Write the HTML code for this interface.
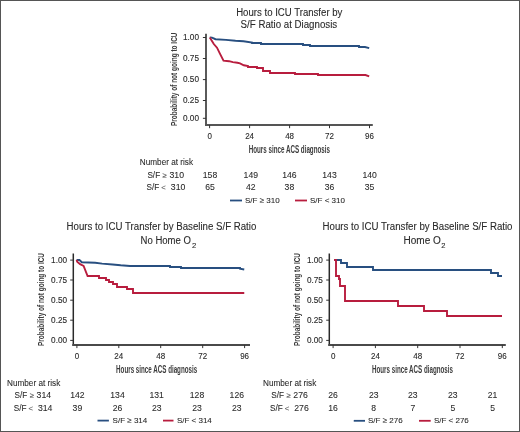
<!DOCTYPE html>
<html><head><meta charset="utf-8"><style>
html,body{margin:0;padding:0;background:#fff;}
#f{position:relative;width:520px;height:432px;overflow:hidden;background:#fff;}
svg{position:absolute;left:0;top:0;}
text{font-family:"Liberation Sans", sans-serif;fill:#2a2a2a;stroke:#2a2a2a;stroke-width:0.08px;}
.t{filter:grayscale(1);}
</style></head><body><div id="f">
<svg width="520" height="432" viewBox="0 0 520 432">
<rect x="0.5" y="0.5" width="519" height="431" fill="#fff" stroke="#555" stroke-width="1"/>
<line x1="206" y1="33.8" x2="206" y2="126" stroke="#5a5a5a" stroke-width="2"/>
<line x1="205" y1="125" x2="372.8" y2="125" stroke="#555" stroke-width="2"/>
<line x1="202.9" y1="37.5" x2="206" y2="37.5" stroke="#333" stroke-width="1"/>
<line x1="202.9" y1="58.5" x2="206" y2="58.5" stroke="#333" stroke-width="1"/>
<line x1="202.9" y1="79.6" x2="206" y2="79.6" stroke="#333" stroke-width="1"/>
<line x1="202.9" y1="100.5" x2="206" y2="100.5" stroke="#333" stroke-width="1"/>
<line x1="202.9" y1="118.3" x2="206" y2="118.3" stroke="#333" stroke-width="1"/>
<line x1="209.6" y1="125" x2="209.6" y2="128.2" stroke="#333" stroke-width="1"/>
<line x1="249.6" y1="125" x2="249.6" y2="128.2" stroke="#333" stroke-width="1"/>
<line x1="289.6" y1="125" x2="289.6" y2="128.2" stroke="#333" stroke-width="1"/>
<line x1="329.5" y1="125" x2="329.5" y2="128.2" stroke="#333" stroke-width="1"/>
<line x1="369.5" y1="125" x2="369.5" y2="128.2" stroke="#333" stroke-width="1"/>
<polyline points="209.8,37.4 212,37.6 215.5,39.2 226,39.9 235.5,40.8 243.5,41.3 252,42.5 252,43 261,43 261,44 303,44 303,45 310,45 310,46 359,46 359,47 365,47 369.2,48.1" fill="none" stroke="#284f80" stroke-width="1.9" stroke-linejoin="miter"/>
<polyline points="209.8,37.4 213.8,44 217,47.7 219.8,53.3 223.5,60.7 229.1,61.2 232.8,62.1 237.4,62.7 240,63.3 243.8,65.3 248,66.1 248,67 257,67 257,68 263,68 263,71 270,71 270,73 295,73 295,74 318,74 318,75 365.5,75 369.2,76.4" fill="none" stroke="#b81d3e" stroke-width="1.9" stroke-linejoin="miter"/>
<line x1="230" y1="200.5" x2="242" y2="200.5" stroke="#284f80" stroke-width="1.8"/>
<line x1="295" y1="200.5" x2="307" y2="200.5" stroke="#b81d3e" stroke-width="1.8"/>
<line x1="73.3" y1="253.5" x2="73.3" y2="345.9" stroke="#2a2a2a" stroke-width="1.5"/>
<line x1="72.3" y1="344.9" x2="250" y2="344.9" stroke="#4a4a4a" stroke-width="2"/>
<line x1="70.2" y1="260.1" x2="73.3" y2="260.1" stroke="#333" stroke-width="1"/>
<line x1="70.2" y1="280" x2="73.3" y2="280" stroke="#333" stroke-width="1"/>
<line x1="70.2" y1="300.2" x2="73.3" y2="300.2" stroke="#333" stroke-width="1"/>
<line x1="70.2" y1="320.2" x2="73.3" y2="320.2" stroke="#333" stroke-width="1"/>
<line x1="70.2" y1="340.4" x2="73.3" y2="340.4" stroke="#333" stroke-width="1"/>
<line x1="76.9" y1="344.9" x2="76.9" y2="348.1" stroke="#333" stroke-width="1"/>
<line x1="118.8" y1="344.9" x2="118.8" y2="348.1" stroke="#333" stroke-width="1"/>
<line x1="160.7" y1="344.9" x2="160.7" y2="348.1" stroke="#333" stroke-width="1"/>
<line x1="202.7" y1="344.9" x2="202.7" y2="348.1" stroke="#333" stroke-width="1"/>
<line x1="244.6" y1="344.9" x2="244.6" y2="348.1" stroke="#333" stroke-width="1"/>
<polyline points="76.6,260 79.5,260 81.8,262.2 95.2,262.7 102.1,263.6 112.6,264.5 120.7,265.3 130,266 170,266 170,267 181,267 181,268 240,268 240,268.75 244.25,269.5" fill="none" stroke="#284f80" stroke-width="1.9" stroke-linejoin="miter"/>
<polyline points="76.6,259.9 77.2,261.8 80.1,264.2 83.6,265.9 87.6,276 99,276 99,278 106,278 106,280 109,280 109,282 113,282 113,284 117,284 117,287 127,287 127,289 133,289 133,293 244.25,293" fill="none" stroke="#b81d3e" stroke-width="1.9" stroke-linejoin="miter"/>
<line x1="97.5" y1="420.6" x2="108.9" y2="420.6" stroke="#284f80" stroke-width="1.8"/>
<line x1="163" y1="420.6" x2="173.5" y2="420.6" stroke="#b81d3e" stroke-width="1.8"/>
<line x1="329.3" y1="253.5" x2="329.3" y2="345.9" stroke="#2a2a2a" stroke-width="1.5"/>
<line x1="328.3" y1="344.9" x2="505.8" y2="344.9" stroke="#4a4a4a" stroke-width="2"/>
<line x1="326.2" y1="260.1" x2="329.3" y2="260.1" stroke="#333" stroke-width="1"/>
<line x1="326.2" y1="280" x2="329.3" y2="280" stroke="#333" stroke-width="1"/>
<line x1="326.2" y1="300.2" x2="329.3" y2="300.2" stroke="#333" stroke-width="1"/>
<line x1="326.2" y1="320.2" x2="329.3" y2="320.2" stroke="#333" stroke-width="1"/>
<line x1="326.2" y1="340.4" x2="329.3" y2="340.4" stroke="#333" stroke-width="1"/>
<line x1="333.1" y1="344.9" x2="333.1" y2="348.1" stroke="#333" stroke-width="1"/>
<line x1="375.4" y1="344.9" x2="375.4" y2="348.1" stroke="#333" stroke-width="1"/>
<line x1="417.7" y1="344.9" x2="417.7" y2="348.1" stroke="#333" stroke-width="1"/>
<line x1="460" y1="344.9" x2="460" y2="348.1" stroke="#333" stroke-width="1"/>
<line x1="502.3" y1="344.9" x2="502.3" y2="348.1" stroke="#333" stroke-width="1"/>
<polyline points="334.1,260 341,260 341,263 347,263 347,267 373,267 373,270 491,270 491,273 498,273 498,276 502,276" fill="none" stroke="#284f80" stroke-width="1.9" stroke-linejoin="miter"/>
<polyline points="334.1,260 336,260 336,265 336,265 336,276 339,276 339,279 340,279 340,286 345,286 345,301 398,301 398,306 424,306 424,311 447,311 447,316 502,316" fill="none" stroke="#b81d3e" stroke-width="1.9" stroke-linejoin="miter"/>
<line x1="353.75" y1="420.8" x2="365" y2="420.8" stroke="#284f80" stroke-width="1.8"/>
<line x1="419" y1="420.8" x2="430.7" y2="420.8" stroke="#b81d3e" stroke-width="1.8"/>
<g class="t"><text x="236.20" y="15.5" font-size="10.0" textLength="106.20" lengthAdjust="spacingAndGlyphs" style="stroke-width:0.1px">Hours to ICU Transfer by</text>
<text x="240.60" y="27.6" font-size="10.0" textLength="96.60" lengthAdjust="spacingAndGlyphs" style="stroke-width:0.1px">S/F Ratio at Diagnosis</text>
<text x="66.60" y="230.0" font-size="10.0" textLength="189.70" lengthAdjust="spacingAndGlyphs" style="stroke-width:0.1px">Hours to ICU Transfer by Baseline S/F Ratio</text>
<text x="322.60" y="230.0" font-size="10.0" textLength="189.90" lengthAdjust="spacingAndGlyphs" style="stroke-width:0.1px">Hours to ICU Transfer by Baseline S/F Ratio</text>
<text x="140.60" y="244.3" font-size="10.0" textLength="50.30" lengthAdjust="spacingAndGlyphs" style="stroke-width:0.1px">No Home O</text>
<text x="192.00" y="247.6" font-size="7.4" textLength="4.30" lengthAdjust="spacingAndGlyphs" style="stroke-width:0.1px">2</text>
<text x="403.50" y="244.3" font-size="10.0" textLength="37.40" lengthAdjust="spacingAndGlyphs" style="stroke-width:0.1px">Home O</text>
<text x="441.20" y="247.6" font-size="7.4" textLength="4.20" lengthAdjust="spacingAndGlyphs" style="stroke-width:0.1px">2</text>
<text x="199" y="40.3" font-size="8.8" text-anchor="end" textLength="16" lengthAdjust="spacingAndGlyphs" style="stroke-width:0.12px">1.00</text>
<text x="199" y="61.3" font-size="8.8" text-anchor="end" textLength="16" lengthAdjust="spacingAndGlyphs" style="stroke-width:0.12px">0.75</text>
<text x="199" y="82.4" font-size="8.8" text-anchor="end" textLength="16" lengthAdjust="spacingAndGlyphs" style="stroke-width:0.12px">0.50</text>
<text x="199" y="103.3" font-size="8.8" text-anchor="end" textLength="16" lengthAdjust="spacingAndGlyphs" style="stroke-width:0.12px">0.25</text>
<text x="199" y="121.1" font-size="8.8" text-anchor="end" textLength="16" lengthAdjust="spacingAndGlyphs" style="stroke-width:0.12px">0.00</text>
<text x="209.6" y="139" font-size="8.8" text-anchor="middle" textLength="4.45" lengthAdjust="spacingAndGlyphs" style="stroke-width:0.12px">0</text>
<text x="249.6" y="139" font-size="8.8" text-anchor="middle" textLength="8.9" lengthAdjust="spacingAndGlyphs" style="stroke-width:0.12px">24</text>
<text x="289.6" y="139" font-size="8.8" text-anchor="middle" textLength="8.9" lengthAdjust="spacingAndGlyphs" style="stroke-width:0.12px">48</text>
<text x="329.5" y="139" font-size="8.8" text-anchor="middle" textLength="8.9" lengthAdjust="spacingAndGlyphs" style="stroke-width:0.12px">72</text>
<text x="369.5" y="139" font-size="8.8" text-anchor="middle" textLength="8.9" lengthAdjust="spacingAndGlyphs" style="stroke-width:0.12px">96</text>
<text x="248.7" y="152.6" font-size="10.2" text-anchor="start" textLength="81.3" lengthAdjust="spacingAndGlyphs" font-weight="bold" style="stroke-width:0;fill:#3c3c3c">Hours since ACS diagnosis</text>
<text transform="translate(176.8,126) rotate(-90)" font-size="9.4" font-weight="bold" style="stroke-width:0;fill:#3c3c3c" textLength="93.5" lengthAdjust="spacingAndGlyphs">Probability of not going to ICU</text>
<text x="139.8" y="165.4" font-size="8.2" text-anchor="start">Number at risk</text>
<text x="147.4" y="177.8" font-size="8.2" text-anchor="start">S/F</text>
<text x="162.6" y="177.8" font-size="7.6" text-anchor="start" style="fill:#555;stroke:#555;stroke-width:0.1px">≥</text>
<text x="169.5" y="177.8" font-size="8.2" text-anchor="start" textLength="14.55" lengthAdjust="spacingAndGlyphs">310</text>
<text x="210" y="177.8" font-size="8.2" text-anchor="middle" textLength="14.4" lengthAdjust="spacingAndGlyphs">158</text>
<text x="250.8" y="177.8" font-size="8.2" text-anchor="middle" textLength="14.4" lengthAdjust="spacingAndGlyphs">149</text>
<text x="289.4" y="177.8" font-size="8.2" text-anchor="middle" textLength="14.4" lengthAdjust="spacingAndGlyphs">146</text>
<text x="329.5" y="177.8" font-size="8.2" text-anchor="middle" textLength="14.4" lengthAdjust="spacingAndGlyphs">143</text>
<text x="369.6" y="177.8" font-size="8.2" text-anchor="middle" textLength="14.4" lengthAdjust="spacingAndGlyphs">140</text>
<text x="146.5" y="190.3" font-size="8.2" text-anchor="start">S/F</text>
<text x="161.3" y="190.3" font-size="7.6" text-anchor="start" style="fill:#555;stroke:#555;stroke-width:0.1px">&lt;</text>
<text x="170.8" y="190.3" font-size="8.2" text-anchor="start" textLength="14.55" lengthAdjust="spacingAndGlyphs">310</text>
<text x="210" y="190.3" font-size="8.2" text-anchor="middle" textLength="9.6" lengthAdjust="spacingAndGlyphs">65</text>
<text x="250.8" y="190.3" font-size="8.2" text-anchor="middle" textLength="9.6" lengthAdjust="spacingAndGlyphs">42</text>
<text x="289.4" y="190.3" font-size="8.2" text-anchor="middle" textLength="9.6" lengthAdjust="spacingAndGlyphs">38</text>
<text x="329.5" y="190.3" font-size="8.2" text-anchor="middle" textLength="9.6" lengthAdjust="spacingAndGlyphs">36</text>
<text x="369.6" y="190.3" font-size="8.2" text-anchor="middle" textLength="9.6" lengthAdjust="spacingAndGlyphs">35</text>
<text x="245" y="203.2" font-size="8" text-anchor="start" style="stroke-width:0.1px">S/F ≥ 310</text>
<text x="310" y="203.2" font-size="8" text-anchor="start" style="stroke-width:0.1px">S/F &lt; 310</text>
<text x="67.1" y="262.9" font-size="8.8" text-anchor="end" textLength="16" lengthAdjust="spacingAndGlyphs" style="stroke-width:0.12px">1.00</text>
<text x="67.1" y="282.8" font-size="8.8" text-anchor="end" textLength="16" lengthAdjust="spacingAndGlyphs" style="stroke-width:0.12px">0.75</text>
<text x="67.1" y="303.0" font-size="8.8" text-anchor="end" textLength="16" lengthAdjust="spacingAndGlyphs" style="stroke-width:0.12px">0.50</text>
<text x="67.1" y="323.0" font-size="8.8" text-anchor="end" textLength="16" lengthAdjust="spacingAndGlyphs" style="stroke-width:0.12px">0.25</text>
<text x="67.1" y="343.2" font-size="8.8" text-anchor="end" textLength="16" lengthAdjust="spacingAndGlyphs" style="stroke-width:0.12px">0.00</text>
<text x="76.9" y="358.6" font-size="8.8" text-anchor="middle" textLength="4.45" lengthAdjust="spacingAndGlyphs" style="stroke-width:0.12px">0</text>
<text x="118.8" y="358.6" font-size="8.8" text-anchor="middle" textLength="8.9" lengthAdjust="spacingAndGlyphs" style="stroke-width:0.12px">24</text>
<text x="160.7" y="358.6" font-size="8.8" text-anchor="middle" textLength="8.9" lengthAdjust="spacingAndGlyphs" style="stroke-width:0.12px">48</text>
<text x="202.7" y="358.6" font-size="8.8" text-anchor="middle" textLength="8.9" lengthAdjust="spacingAndGlyphs" style="stroke-width:0.12px">72</text>
<text x="244.6" y="358.6" font-size="8.8" text-anchor="middle" textLength="8.9" lengthAdjust="spacingAndGlyphs" style="stroke-width:0.12px">96</text>
<text x="116.1" y="372.8" font-size="10.2" text-anchor="start" textLength="81.1" lengthAdjust="spacingAndGlyphs" font-weight="bold" style="stroke-width:0;fill:#3c3c3c">Hours since ACS diagnosis</text>
<text transform="translate(43.7,346) rotate(-90)" font-size="9.4" font-weight="bold" style="stroke-width:0;fill:#3c3c3c" textLength="93" lengthAdjust="spacingAndGlyphs">Probability of not going to ICU</text>
<text x="7" y="385.5" font-size="8.2" text-anchor="start">Number at risk</text>
<text x="14.5" y="398.2" font-size="8.2" text-anchor="start">S/F</text>
<text x="29.8" y="398.2" font-size="7.6" text-anchor="start" style="fill:#555;stroke:#555;stroke-width:0.1px">≥</text>
<text x="36.6" y="398.2" font-size="8.2" text-anchor="start" textLength="14.55" lengthAdjust="spacingAndGlyphs">314</text>
<text x="77.4" y="398.2" font-size="8.2" text-anchor="middle" textLength="14.4" lengthAdjust="spacingAndGlyphs">142</text>
<text x="117.5" y="398.2" font-size="8.2" text-anchor="middle" textLength="14.4" lengthAdjust="spacingAndGlyphs">134</text>
<text x="156.7" y="398.2" font-size="8.2" text-anchor="middle" textLength="14.4" lengthAdjust="spacingAndGlyphs">131</text>
<text x="197" y="398.2" font-size="8.2" text-anchor="middle" textLength="14.4" lengthAdjust="spacingAndGlyphs">128</text>
<text x="236.8" y="398.2" font-size="8.2" text-anchor="middle" textLength="14.4" lengthAdjust="spacingAndGlyphs">126</text>
<text x="13.75" y="410.8" font-size="8.2" text-anchor="start">S/F</text>
<text x="28.5" y="410.8" font-size="7.6" text-anchor="start" style="fill:#555;stroke:#555;stroke-width:0.1px">&lt;</text>
<text x="37.9" y="410.8" font-size="8.2" text-anchor="start" textLength="14.55" lengthAdjust="spacingAndGlyphs">314</text>
<text x="77.4" y="410.8" font-size="8.2" text-anchor="middle" textLength="9.6" lengthAdjust="spacingAndGlyphs">39</text>
<text x="117.5" y="410.8" font-size="8.2" text-anchor="middle" textLength="9.6" lengthAdjust="spacingAndGlyphs">26</text>
<text x="156.7" y="410.8" font-size="8.2" text-anchor="middle" textLength="9.6" lengthAdjust="spacingAndGlyphs">23</text>
<text x="197" y="410.8" font-size="8.2" text-anchor="middle" textLength="9.6" lengthAdjust="spacingAndGlyphs">23</text>
<text x="236.8" y="410.8" font-size="8.2" text-anchor="middle" textLength="9.6" lengthAdjust="spacingAndGlyphs">23</text>
<text x="112.6" y="423.2" font-size="8" text-anchor="start" style="stroke-width:0.1px">S/F ≥ 314</text>
<text x="176.9" y="423.2" font-size="8" text-anchor="start" style="stroke-width:0.1px">S/F &lt; 314</text>
<text x="322.9" y="262.9" font-size="8.8" text-anchor="end" textLength="16" lengthAdjust="spacingAndGlyphs" style="stroke-width:0.12px">1.00</text>
<text x="322.9" y="282.8" font-size="8.8" text-anchor="end" textLength="16" lengthAdjust="spacingAndGlyphs" style="stroke-width:0.12px">0.75</text>
<text x="322.9" y="303.0" font-size="8.8" text-anchor="end" textLength="16" lengthAdjust="spacingAndGlyphs" style="stroke-width:0.12px">0.50</text>
<text x="322.9" y="323.0" font-size="8.8" text-anchor="end" textLength="16" lengthAdjust="spacingAndGlyphs" style="stroke-width:0.12px">0.25</text>
<text x="322.9" y="343.2" font-size="8.8" text-anchor="end" textLength="16" lengthAdjust="spacingAndGlyphs" style="stroke-width:0.12px">0.00</text>
<text x="333.1" y="358.6" font-size="8.8" text-anchor="middle" textLength="4.45" lengthAdjust="spacingAndGlyphs" style="stroke-width:0.12px">0</text>
<text x="375.4" y="358.6" font-size="8.8" text-anchor="middle" textLength="8.9" lengthAdjust="spacingAndGlyphs" style="stroke-width:0.12px">24</text>
<text x="417.7" y="358.6" font-size="8.8" text-anchor="middle" textLength="8.9" lengthAdjust="spacingAndGlyphs" style="stroke-width:0.12px">48</text>
<text x="460" y="358.6" font-size="8.8" text-anchor="middle" textLength="8.9" lengthAdjust="spacingAndGlyphs" style="stroke-width:0.12px">72</text>
<text x="502.3" y="358.6" font-size="8.8" text-anchor="middle" textLength="8.9" lengthAdjust="spacingAndGlyphs" style="stroke-width:0.12px">96</text>
<text x="372" y="372.8" font-size="10.2" text-anchor="start" textLength="81" lengthAdjust="spacingAndGlyphs" font-weight="bold" style="stroke-width:0;fill:#3c3c3c">Hours since ACS diagnosis</text>
<text transform="translate(299.9,346) rotate(-90)" font-size="9.4" font-weight="bold" style="stroke-width:0;fill:#3c3c3c" textLength="93" lengthAdjust="spacingAndGlyphs">Probability of not going to ICU</text>
<text x="263" y="385.5" font-size="8.2" text-anchor="start">Number at risk</text>
<text x="271.25" y="398.2" font-size="8.2" text-anchor="start">S/F</text>
<text x="286.5" y="398.2" font-size="7.6" text-anchor="start" style="fill:#555;stroke:#555;stroke-width:0.1px">≥</text>
<text x="293.3" y="398.2" font-size="8.2" text-anchor="start" textLength="14.55" lengthAdjust="spacingAndGlyphs">276</text>
<text x="333" y="398.2" font-size="8.2" text-anchor="middle" textLength="9.6" lengthAdjust="spacingAndGlyphs">26</text>
<text x="373.75" y="398.2" font-size="8.2" text-anchor="middle" textLength="9.6" lengthAdjust="spacingAndGlyphs">23</text>
<text x="412.8" y="398.2" font-size="8.2" text-anchor="middle" textLength="9.6" lengthAdjust="spacingAndGlyphs">23</text>
<text x="452.8" y="398.2" font-size="8.2" text-anchor="middle" textLength="9.6" lengthAdjust="spacingAndGlyphs">23</text>
<text x="492.6" y="398.2" font-size="8.2" text-anchor="middle" textLength="9.6" lengthAdjust="spacingAndGlyphs">21</text>
<text x="270" y="410.8" font-size="8.2" text-anchor="start">S/F</text>
<text x="284.8" y="410.8" font-size="7.6" text-anchor="start" style="fill:#555;stroke:#555;stroke-width:0.1px">&lt;</text>
<text x="294.2" y="410.8" font-size="8.2" text-anchor="start" textLength="14.55" lengthAdjust="spacingAndGlyphs">276</text>
<text x="333" y="410.8" font-size="8.2" text-anchor="middle" textLength="9.6" lengthAdjust="spacingAndGlyphs">16</text>
<text x="373.75" y="410.8" font-size="8.2" text-anchor="middle" textLength="4.8" lengthAdjust="spacingAndGlyphs">8</text>
<text x="412.8" y="410.8" font-size="8.2" text-anchor="middle" textLength="4.8" lengthAdjust="spacingAndGlyphs">7</text>
<text x="452.8" y="410.8" font-size="8.2" text-anchor="middle" textLength="4.8" lengthAdjust="spacingAndGlyphs">5</text>
<text x="492.6" y="410.8" font-size="8.2" text-anchor="middle" textLength="4.8" lengthAdjust="spacingAndGlyphs">5</text>
<text x="368" y="423.2" font-size="8" text-anchor="start" style="stroke-width:0.1px">S/F ≥ 276</text>
<text x="433.9" y="423.2" font-size="8" text-anchor="start" style="stroke-width:0.1px">S/F &lt; 276</text></g>
</svg></div></body></html>
